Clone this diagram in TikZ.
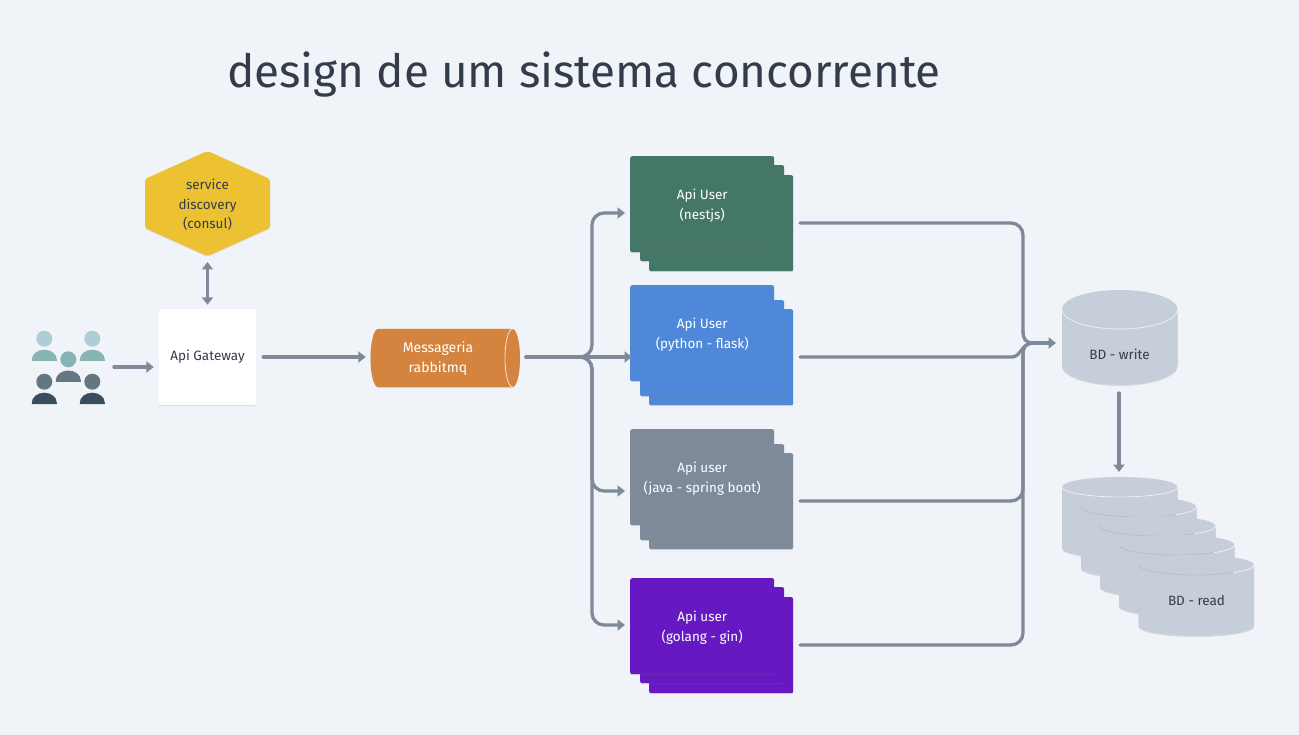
\documentclass[tikz,border=0pt]{standalone}
\usepackage{fontspec}
\setmainfont{Fira Sans}
\usetikzlibrary{arrows.meta,shadows,calc}
\definecolor{bg}{HTML}{F0F3F7}
\definecolor{ink}{HTML}{323C4B}
\definecolor{wire}{HTML}{7E8A9A}
\definecolor{dbc}{HTML}{C6CEDA}
\definecolor{dbedge}{HTML}{B6BFCC}
\definecolor{hexc}{HTML}{ECC232}
\definecolor{orangec}{HTML}{D4843F}
\definecolor{greenc}{HTML}{447766}
\definecolor{bluec}{HTML}{4F88D8}
\definecolor{grayc}{HTML}{7E8A9A}
\definecolor{purplec}{HTML}{6619C2}
\definecolor{uA}{HTML}{ABCFD5}
\definecolor{uB}{HTML}{88B4B4}
\definecolor{uC}{HTML}{62777F}
\definecolor{uD}{HTML}{3A4F5D}
\tikzset{
  softshadow/.style={drop shadow={opacity=.2,shadow xshift=0pt,shadow yshift=-1pt}},
  card/.style={rounded corners=2pt,minimum width=144pt,minimum height=96pt,inner sep=0pt,anchor=north west,softshadow},
  link/.style={draw=wire,line width=3.3pt,line cap=round,rounded corners=12pt,-{Triangle[length=7.5pt,width=11pt]}},
  plainlink/.style={draw=wire,line width=3.3pt,line cap=round},
  lbl/.style={font=\fontsize{13.5}{19.5}\selectfont,text=ink,align=center,inner sep=0pt},
  dbtop/.style={draw=white,line width=.7pt,opacity=.75},
}
% #1 left, #2 top, #3 width, #4 height, #5 ry
\newcommand{\dbbody}[5]{%
  \fill[dbc,softshadow] (#1,#2+#5) arc[start angle=180,end angle=360,x radius=#3/2,y radius=#5]
     -- (#1+#3,#2+#4-#5) arc[start angle=0,end angle=180,x radius=#3/2,y radius=#5] -- cycle;
}
\newcommand{\dbcyl}[5]{%
  \dbbody{#1}{#2}{#3}{#4}{#5}
  \draw[dbtop] (#1,#2+#5) arc[start angle=180,end angle=0,x radius=#3/2,y radius=#5];
}
% a cylinder whose rim is grey on the left and white on the right
\newcommand{\dbcylb}[5]{%
  \dbbody{#1}{#2}{#3}{#4}{#5}
  \draw[draw=dbedge,line width=.8pt] (#1,#2+#5) arc[start angle=180,end angle=50,x radius=#3/2,y radius=#5];
  \draw[dbtop] (#1+#3,#2+#5) arc[start angle=0,end angle=50,x radius=#3/2,y radius=#5];
}
\newcommand{\person}[5]{% x, head y, body top y, head colour, body colour
  \fill[#4] (#1,#2) circle[radius=8pt];
  \fill[#5] (#1-12.5,#3+11.3) -- (#1-12.5,#3+10) arc[start angle=180,end angle=360,x radius=12.5,y radius=10] -- (#1+12.5,#3+11.3) -- cycle;
}
\begin{document}
\begin{tikzpicture}[x=1pt,y=-1pt]
\useasboundingbox[fill=bg] (0,0) rectangle (1299,735);

\node[anchor=base west,inner sep=0pt,text=ink,font=\fontsize{45.8}{50}\selectfont] (title) at (227,88) {design de um sistema concorrente};

% users
\person{44.3}{338.7}{349.7}{uA}{uB}
\person{92.3}{338.7}{349.7}{uA}{uB}
\person{68.3}{359.3}{370.5}{uB}{uC}
\person{44.3}{381.7}{392.7}{uC}{uD}
\person{92.3}{381.7}{392.7}{uC}{uD}
\coordinate (usersout) at (114,367);

% gateway and discovery
\node[fill=white,rounded corners=2pt,minimum width=97pt,minimum height=96pt,lbl,softshadow] (gw) at (207.5,357) {\raisebox{-1.5pt}{Api Gateway}};
\fill[hexc,rounded corners=2pt,softshadow] (207.5,151) -- (270,179) -- (270,228) -- (207.5,256) -- (145,228) -- (145,179) -- cycle;
\node[lbl,minimum width=125pt,minimum height=105pt] (hex) at (207.5,205) {service\\discovery\\(consul)};

% queue
\fill[orangec,softshadow] (378,329) -- (512.5,329) arc[start angle=-90,end angle=90,x radius=7.5,y radius=29] -- (378,387) arc[start angle=90,end angle=270,x radius=7.5,y radius=29] -- cycle;
\draw[white,line width=.8pt,opacity=.75] (512.5,329) arc[start angle=270,end angle=90,x radius=7.5,y radius=29];
\node[lbl,text=white,minimum width=149pt,minimum height=58pt] (mq) at (445.5,358) {};
\node[lbl,text=white,font=\fontsize{14}{20}\selectfont] (mqtext) at (438,359) {Messageria\\rabbitmq};

% service stacks
\foreach \nm/\col/\ya/\yb/\yc/\tx in {g/greenc/156/165/175/{Api User\\(nestjs)},b/bluec/285/300/309/{Api User\\(python - flask)},j/grayc/429/444/453/{Api user\\(java - spring boot)},p/purplec/578/587/597/{Api user\\(golang - gin)}}{
  \node[card,fill=\col] (\nm3) at (649,\yc) {};
  \node[card,fill=\col] (\nm2) at (640,\yb) {};
  \node[card,fill=\col] (\nm1) at (630,\ya) {};
  \node[lbl,text=white] (\nm t) at ($(\nm1.center)+(0,1.5)$) {\tx};
}

% databases
\dbcyl{1062}{290}{115.5}{95}{19.5}
\node[lbl] (dbw) at (1119.5,354) {BD - write};
\dbcyl{1062}{477}{115.5}{81}{10}
\dbcylb{1081}{497}{115.5}{81}{10}
\dbcylb{1100}{516}{115.5}{81}{10}
\dbcylb{1119}{535}{115.5}{81}{10}
\dbcylb{1138.5}{555}{115.5}{81}{10}
\node[lbl] (dbr) at (1196.5,601) {BD - read};

% connector ends
\coordinate (gin) at (625,213);
\coordinate (bin) at (632,357);
\coordinate (jin) at (625,491);
\coordinate (pin) at (625,625);
\coordinate (gout) at (800,223);
\coordinate (bout) at (800,357);
\coordinate (jout) at (800,501);
\coordinate (pout) at (800,645);
\coordinate (dbin) at (1056,343);
\coordinate (dbwout) at (1119,393);
\coordinate (dbrin) at (1119,472);
\coordinate (hub) at (592,357);
\coordinate (bus) at (1023,343);
\coordinate (mqout) at (526,357);

% connectors
\draw[link,{Triangle[length=7.5pt,width=11pt]}-{Triangle[length=7.5pt,width=11pt]}] (207.5,262) -- ([yshift=4pt]gw.north);
\draw[link] (usersout) -- ([xshift=-5pt,yshift=-10pt]gw.west);
\draw[link] ([xshift=7pt]gw.east) -- ([xshift=-5pt,yshift=1pt]mq.west);
\draw[link] (mqout) -- (bin);
\draw[link] (mqout) -- (hub) |- (gin);
\draw[link] (mqout) -- (hub) |- (jin);
\draw[link] (mqout) -- (hub) |- (pin);

\draw[plainlink,rounded corners=12pt] (gout) -| ($(bus)+(0,-12)$);
\draw[plainlink] ($(bus)+(0,-13)$) .. controls ($(bus)+(0,-4)$) and ($(bus)+(2,0)$) .. ($(bus)+(11,0)$);
\draw[plainlink] (bout) -- (1012,357) .. controls (1021,357) and (1021,343) .. ($(bus)+(11,0)$);
\draw[plainlink,rounded corners=12pt] (jout) -| ($(bus)+(0,12)$);
\draw[plainlink,rounded corners=12pt] (pout) -| ($(bus)+(0,12)$);
\draw[plainlink] ($(bus)+(0,13)$) .. controls ($(bus)+(0,4)$) and ($(bus)+(2,0)$) .. ($(bus)+(11,0)$);
\draw[link] ($(bus)+(11,0)$) -- (dbin);
\draw[link] (dbwout) -- (dbrin);
\end{tikzpicture}
\end{document}
